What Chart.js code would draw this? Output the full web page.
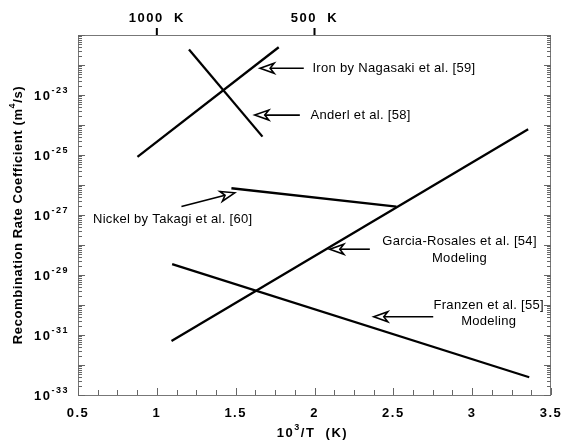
<!DOCTYPE html>
<html>
<head>
<meta charset="utf-8">
<script src="https://cdn.jsdelivr.net/npm/chart.js@4.4.1/dist/chart.umd.min.js"></script>
<style>
  html, body { margin: 0; background: #fff; }
  #wrap { width: 563px; height: 444px; position: relative; }
</style>
</head>
<body>
<div id="wrap"><canvas id="chart"></canvas></div>
<script>
// values (x = 10^3/T, y = coefficient in m^4/s)
const ironX = [0.877, 1.773];
const ironY = [8.7e-26, 3.9e-22];
const anderlX = [1.204, 1.670];
const anderlY = [3.3e-22, 4.1e-25];
const nickelX = [1.473, 2.520];
const nickelY = [7.8e-27, 1.9e-27];
const garciaX = [1.093, 3.355];
const garciaY = [6.3e-32, 7.2e-25];
const franzenX = [1.097, 3.362];
const franzenY = [2.3e-29, 3.9e-33];

const xLabels = [0.5, 1, 1.5, 2, 2.5, 3, 3.5];
const yLabelExp = [-33, -31, -29, -27, -25, -23];
const topTickX = [1, 2];
const topTickText = ['1000  K', '500  K'];

// annotations, in data units (y given as exponent of ten)
const notes = [
    { lines: [['Iron by Nagasaki et al. [59]', 1.987, -22.11]], align: 'left', arrow: [1.932, -22.11, 1.655, -22.11] },
    { lines: [['Anderl et al. [58]', 1.975, -23.67]], align: 'left', arrow: [1.907, -23.67, 1.621, -23.67] },
    { lines: [['Nickel by Takagi et al. [60]', 0.595, -27.14]], align: 'left', arrow: [1.156, -26.72, 1.494, -26.26] },
    { lines: [['Garcia-Rosales et al. [54]', 2.92, -27.89], ['Modeling', 2.92, -28.44]], align: 'center', arrow: [2.351, -28.14, 2.097, -28.14] },
    { lines: [['Franzen et al. [55]', 3.105, -30.0], ['Modeling', 3.105, -30.56]], align: 'center', arrow: [2.753, -30.39, 2.376, -30.39] }
];

const FONT = '"Liberation Sans", Arial, Helvetica, sans-serif';

function pts(xs, ys) {
    return xs.map((x, i) => ({ x: x, y: ys[i] }));
}

function serie(xs, ys) {
    return {
        data: pts(xs, ys),
        borderColor: '#000',
        borderWidth: 2.3,
        pointRadius: 0,
        fill: false,
        tension: 0
    };
}

// text made of normal and superscript pieces
function textSup(ctx, parts, x, y, size, align) {
    const widths = parts.map(p => {
        ctx.font = `bold ${p.sup ? Math.round(size * 0.68) : size}px ${FONT}`;
        return ctx.measureText(p.t).width;
    });
    const total = widths.reduce((a, b) => a + b, 0);
    let cx = align === 'right' ? x - total : align === 'center' ? x - total / 2 : x;
    ctx.textAlign = 'left';
    ctx.textBaseline = 'middle';
    parts.forEach((p, i) => {
        ctx.font = `bold ${p.sup ? Math.round(size * 0.68) : size}px ${FONT}`;
        ctx.fillText(p.t, cx, p.sup ? y - size * 0.45 : y);
        cx += widths[i];
    });
}

function arrowHead(ctx, x0, y0, x1, y1) {
    const a = Math.atan2(y1 - y0, x1 - x0);
    const dx = Math.cos(a), dy = Math.sin(a);
    const back = 14, hw = 5, notch = 10;
    ctx.beginPath();
    ctx.moveTo(x0, y0);
    ctx.lineTo(x1 - dx * notch, y1 - dy * notch);
    ctx.stroke();
    ctx.beginPath();
    ctx.moveTo(x1, y1);
    ctx.lineTo(x1 - dx * back - dy * hw, y1 - dy * back + dx * hw);
    ctx.lineTo(x1 - dx * notch, y1 - dy * notch);
    ctx.lineTo(x1 - dx * back + dy * hw, y1 - dy * back - dx * hw);
    ctx.closePath();
    ctx.stroke();
}

const decor = {
    id: 'decor',
    afterDraw(chart) {
        const ctx = chart.ctx;
        const xs = chart.scales.x, ys = chart.scales.y;
        const area = chart.chartArea;
        ctx.save();

        // frame
        ctx.strokeStyle = '#777';
        ctx.lineWidth = 1;
        ctx.strokeRect(area.left + 0.5, area.top + 0.5, area.right - area.left - 1, area.bottom - area.top);

        // log ticks on both sides, pointing inward
        ctx.strokeStyle = '#666';
        ctx.beginPath();
        for (let n = -33; n <= -21; n++) {
            for (let k = 1; k <= 9; k++) {
                const v = k * Math.pow(10, n);
                if (v > ys.max * 1.0001) break;
                const py = Math.round(ys.getPixelForValue(v)) + 0.5;
                const len = k === 1 ? 7 : 4;
                ctx.moveTo(area.left, py); ctx.lineTo(area.left + len, py);
                ctx.moveTo(area.right, py); ctx.lineTo(area.right - len, py);
            }
        }
        // bottom ticks every 0.125
        for (let v = 0.5; v <= 3.5001; v += 0.125) {
            const px = Math.round(xs.getPixelForValue(v)) + 0.5;
            const len = Math.abs(v * 2 - Math.round(v * 2)) < 1e-6 ? 7 : 5;
            ctx.moveTo(px, area.bottom); ctx.lineTo(px, area.bottom - len);
        }
        ctx.stroke();

        // top temperature ticks
        ctx.strokeStyle = '#000';
        ctx.lineWidth = 2;
        ctx.beginPath();
        topTickX.forEach(v => {
            const px = xs.getPixelForValue(v);
            ctx.moveTo(px, area.top - 7); ctx.lineTo(px, area.top);
        });
        ctx.stroke();

        ctx.fillStyle = '#000';
        ctx.letterSpacing = '1.5px';
        ctx.font = `bold 13px ${FONT}`;
        ctx.textAlign = 'center';
        ctx.textBaseline = 'middle';
        topTickText.forEach((t, i) => ctx.fillText(t, xs.getPixelForValue(topTickX[i]), 18));

        // x tick labels
        xLabels.forEach(v => ctx.fillText(String(v), xs.getPixelForValue(v), area.bottom + 18));

        // y tick labels 10^n
        yLabelExp.forEach(e => {
            const py = ys.getPixelForValue(Math.pow(10, e));
            textSup(ctx, [{ t: '10' }, { t: String(e), sup: true }], area.left - 9, py + 1, 13, 'right');
        });

        // axis titles
        textSup(ctx, [{ t: '10' }, { t: '3', sup: true }, { t: '/T  (K)' }], xs.getPixelForValue(2) - 2, area.bottom + 38, 13, 'center');
        ctx.letterSpacing = '0.6px';
        ctx.save();
        ctx.translate(18, (area.top + area.bottom) / 2);
        ctx.rotate(-Math.PI / 2);
        textSup(ctx, [{ t: 'Recombination Rate Coefficient (m' }, { t: '4', sup: true }, { t: '/s)' }], 0, 0, 13, 'center');
        ctx.restore();

        // annotations
        ctx.letterSpacing = '0.3px';
        ctx.font = `13px ${FONT}`;
        ctx.textBaseline = 'middle';
        ctx.lineWidth = 1.6;
        ctx.strokeStyle = '#000';
        notes.forEach(nt => {
            ctx.textAlign = nt.align;
            nt.lines.forEach(l => {
                ctx.fillText(l[0], xs.getPixelForValue(l[1]), ys.getPixelForValue(Math.pow(10, l[2])));
            });
            const a = nt.arrow;
            arrowHead(ctx,
                xs.getPixelForValue(a[0]), ys.getPixelForValue(Math.pow(10, a[1])),
                xs.getPixelForValue(a[2]), ys.getPixelForValue(Math.pow(10, a[3])));
        });
        ctx.restore();
    }
};

new Chart(document.getElementById('chart'), {
    type: 'line',
    data: {
        datasets: [
            serie(ironX, ironY),
            serie(anderlX, anderlY),
            serie(nickelX, nickelY),
            serie(garciaX, garciaY),
            serie(franzenX, franzenY)
        ]
    },
    options: {
        responsive: true,
        maintainAspectRatio: false,
        animation: false,
        layout: { padding: { top: 35, right: 12, left: 0, bottom: 0 } },
        plugins: { legend: { display: false }, tooltip: { enabled: false } },
        scales: {
            x: {
                type: 'linear',
                min: 0.5,
                max: 3.5,
                grid: { display: false },
                ticks: { display: false },
                border: { display: false },
                afterFit: s => { s.height = 49; }
            },
            y: {
                type: 'logarithmic',
                min: 1e-33,
                max: 1e-21,
                grid: { display: false },
                ticks: { display: false },
                border: { display: false },
                afterFit: s => { s.width = 78; }
            }
        }
    },
    plugins: [decor]
});
</script>
</body>
</html>
